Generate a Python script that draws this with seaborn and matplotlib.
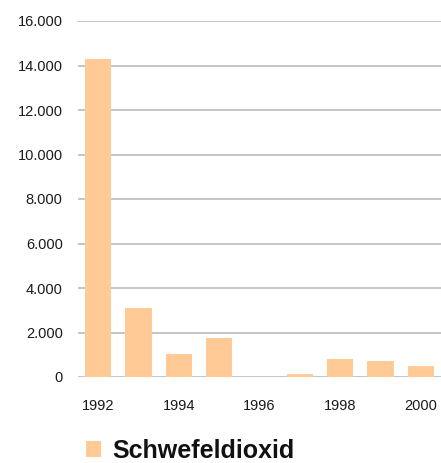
import numpy as np
import pandas as pd
import matplotlib
matplotlib.use("Agg")
import matplotlib.pyplot as plt
import seaborn as sns

# Datos
anios = [1992, 1993, 1994, 1995, 1996, 1997, 1998, 1999, 2000]
valores = [14300, 3100, 1030, 1750, 0, 120, 820, 730, 480]
serie = 'Schwefeldioxid'
y_ticks = [0, 2000, 4000, 6000, 8000, 10000, 12000, 14000, 16000]

color_barra = '#FFCA96'
color_grid = '#C0C0C0'

df = pd.DataFrame({'Jahr': anios, 'Wert': valores})

sns.set_style("white")
plt.rcParams['font.family'] = ['Liberation Sans', 'DejaVu Sans']

fig = plt.figure(figsize=(4.41, 4.63), dpi=100)
ax = fig.add_axes([78 / 441, 1 - 377 / 463, 1 - 78 / 441, (377 - 21) / 463])

sns.barplot(data=df, x='Jahr', y='Wert', color=color_barra, width=0.65,
            saturation=1, label=serie, linewidth=0, edgecolor='none', ax=ax)

ax.set_ylim(0, 16000)
ax.set_xlim(-0.5, len(anios) - 0.5)
ax.set_yticks(y_ticks)
ax.set_yticklabels([f'{v:,}'.replace(',', '.') for v in y_ticks])
ax.set_xticks(range(0, len(anios), 2))
ax.set_xticklabels([str(a) for a in anios[::2]])
ax.tick_params(axis='y', length=0, pad=11, labelsize=10.5, labelcolor='#1a1a1a')
ax.tick_params(axis='x', length=0, pad=16, labelsize=10.5, labelcolor='#1a1a1a')
ax.set_xlabel('')
ax.set_ylabel('')

# Líneas de la cuadrícula
ax.grid(axis='y', color=color_grid, linewidth=1.3)
ax.set_axisbelow(True)
for s in ax.spines.values():
    s.set_visible(False)

# Leyenda inferior
if ax.legend_:
    ax.legend_.remove()
handles, labels = ax.get_legend_handles_labels()
fig.legend(handles[:1], labels[:1], loc='center left', bbox_to_anchor=(86 / 441, 1 - 451 / 463),
           frameon=False, borderpad=0, borderaxespad=0, handlelength=0.6, handleheight=0.6,
           handletextpad=0.45, prop={'size': 18, 'weight': 'bold'}, labelcolor='#111111')

fig.savefig('out.png', dpi=100)
